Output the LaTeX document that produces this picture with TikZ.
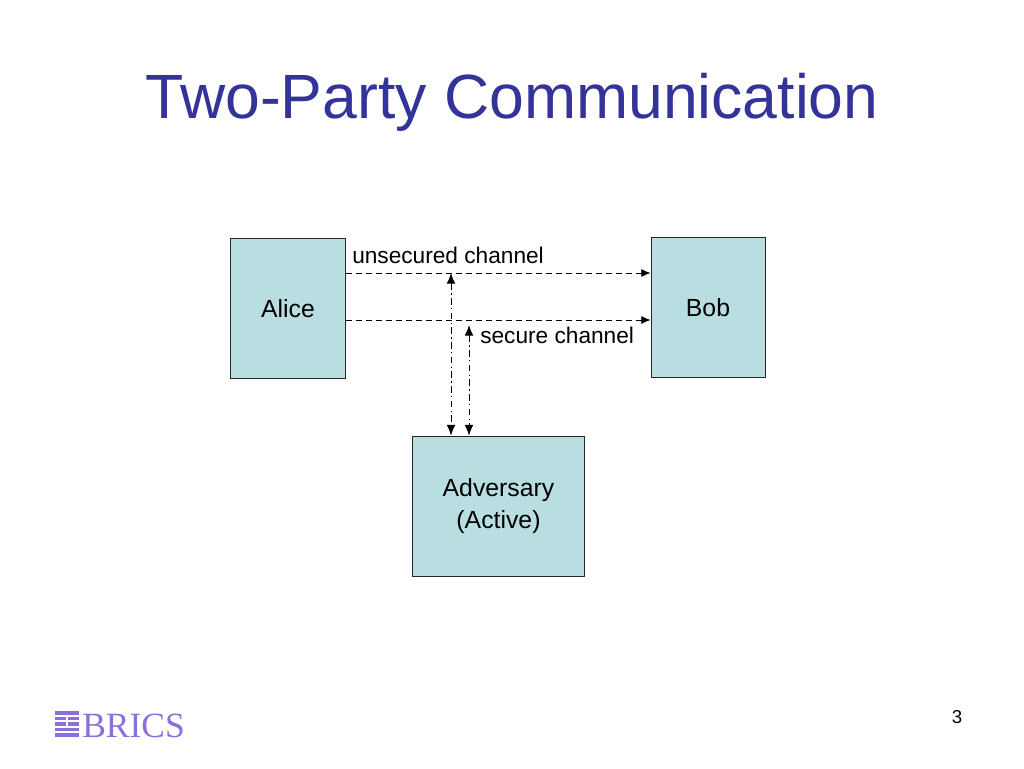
\documentclass[tikz,border=0pt]{standalone}
\usepackage{fontspec}
\setmainfont{Liberation Sans}
\newfontfamily\logofont{Liberation Serif}
\usepackage{tikz}
\usetikzlibrary{arrows.meta}
\definecolor{titleblue}{RGB}{51,51,153}
\definecolor{boxfill}{RGB}{185,222,226}
\definecolor{logoviolet}{RGB}{139,111,222}
\tikzset{
    party/.style={draw=black!85,fill=boxfill,line width=0.6pt,minimum width=86pt,minimum height=105pt,inner sep=0pt,align=center,font=\fontsize{18.6}{23.5}\selectfont},
    chan/.style={dash pattern=on 4.5pt off 3pt,line width=0.7pt,-{Latex[length=7pt,width=6pt]}},
    tap/.style={dash pattern=on 5pt off 2.5pt on 1pt off 2.5pt,line width=0.7pt,{Latex[length=8pt,width=6.5pt]}-{Latex[length=8pt,width=6.5pt]}},
    lbl/.style={inner sep=0pt,font=\fontsize{17}{20}\selectfont}
}
\begin{document}
\begin{tikzpicture}[x=0.75pt,y=-0.75pt]
\useasboundingbox (0,0) rectangle (1024,768);
\fill[white] (0,0) rectangle (1024,768);

\node[text=titleblue,inner sep=0pt,font=\fontsize{46.9}{50}\selectfont] (title) at (512,102) {Two-Party Communication};

% Boxes
\node[party] (alice) at (288,308.5) {Alice};
\node[party,minimum width=85.5pt] (bob) at (708,307.5) {Bob};
\node[party,minimum width=129pt] (adv) at (498.5,506) {Adversary\\(Active)};

% Channels
\coordinate (a1) at (alice.east |- 0,273);
\coordinate (b1) at (bob.west |- 0,273);
\coordinate (a2) at (alice.east |- 0,320);
\coordinate (b2) at (bob.west |- 0,320);
\draw[chan] (a1) -- (b1);
\draw[chan] (a2) -- (b2);

% Tapping lines
\coordinate (t1) at (451,273);
\coordinate (t2) at (469,325);
\draw[tap] (t1) -- (t1 |- adv.north);
\draw[tap] (t2) -- (t2 |- adv.north);

\node[lbl,anchor=base west] (unsec) at (352,263) {unsecured channel};
\node[lbl,anchor=base west] (sec) at (480,343) {secure channel};

% Logo
\foreach \y in {711,716.5,722,727.5,733} {
    \fill[logoviolet] (55,\y) rectangle (79,\y+3.8);
}
\fill[white] (66,716) rectangle (68,727);
\node[anchor=base west,inner sep=0pt,text=logoviolet,font=\logofont\fontsize{26.6}{26}\selectfont] (logo) at (82,737) {BRICS};

\node[inner sep=0pt,font=\fontsize{14}{16}\selectfont] (page) at (957,717) {3};
\end{tikzpicture}
\end{document}
